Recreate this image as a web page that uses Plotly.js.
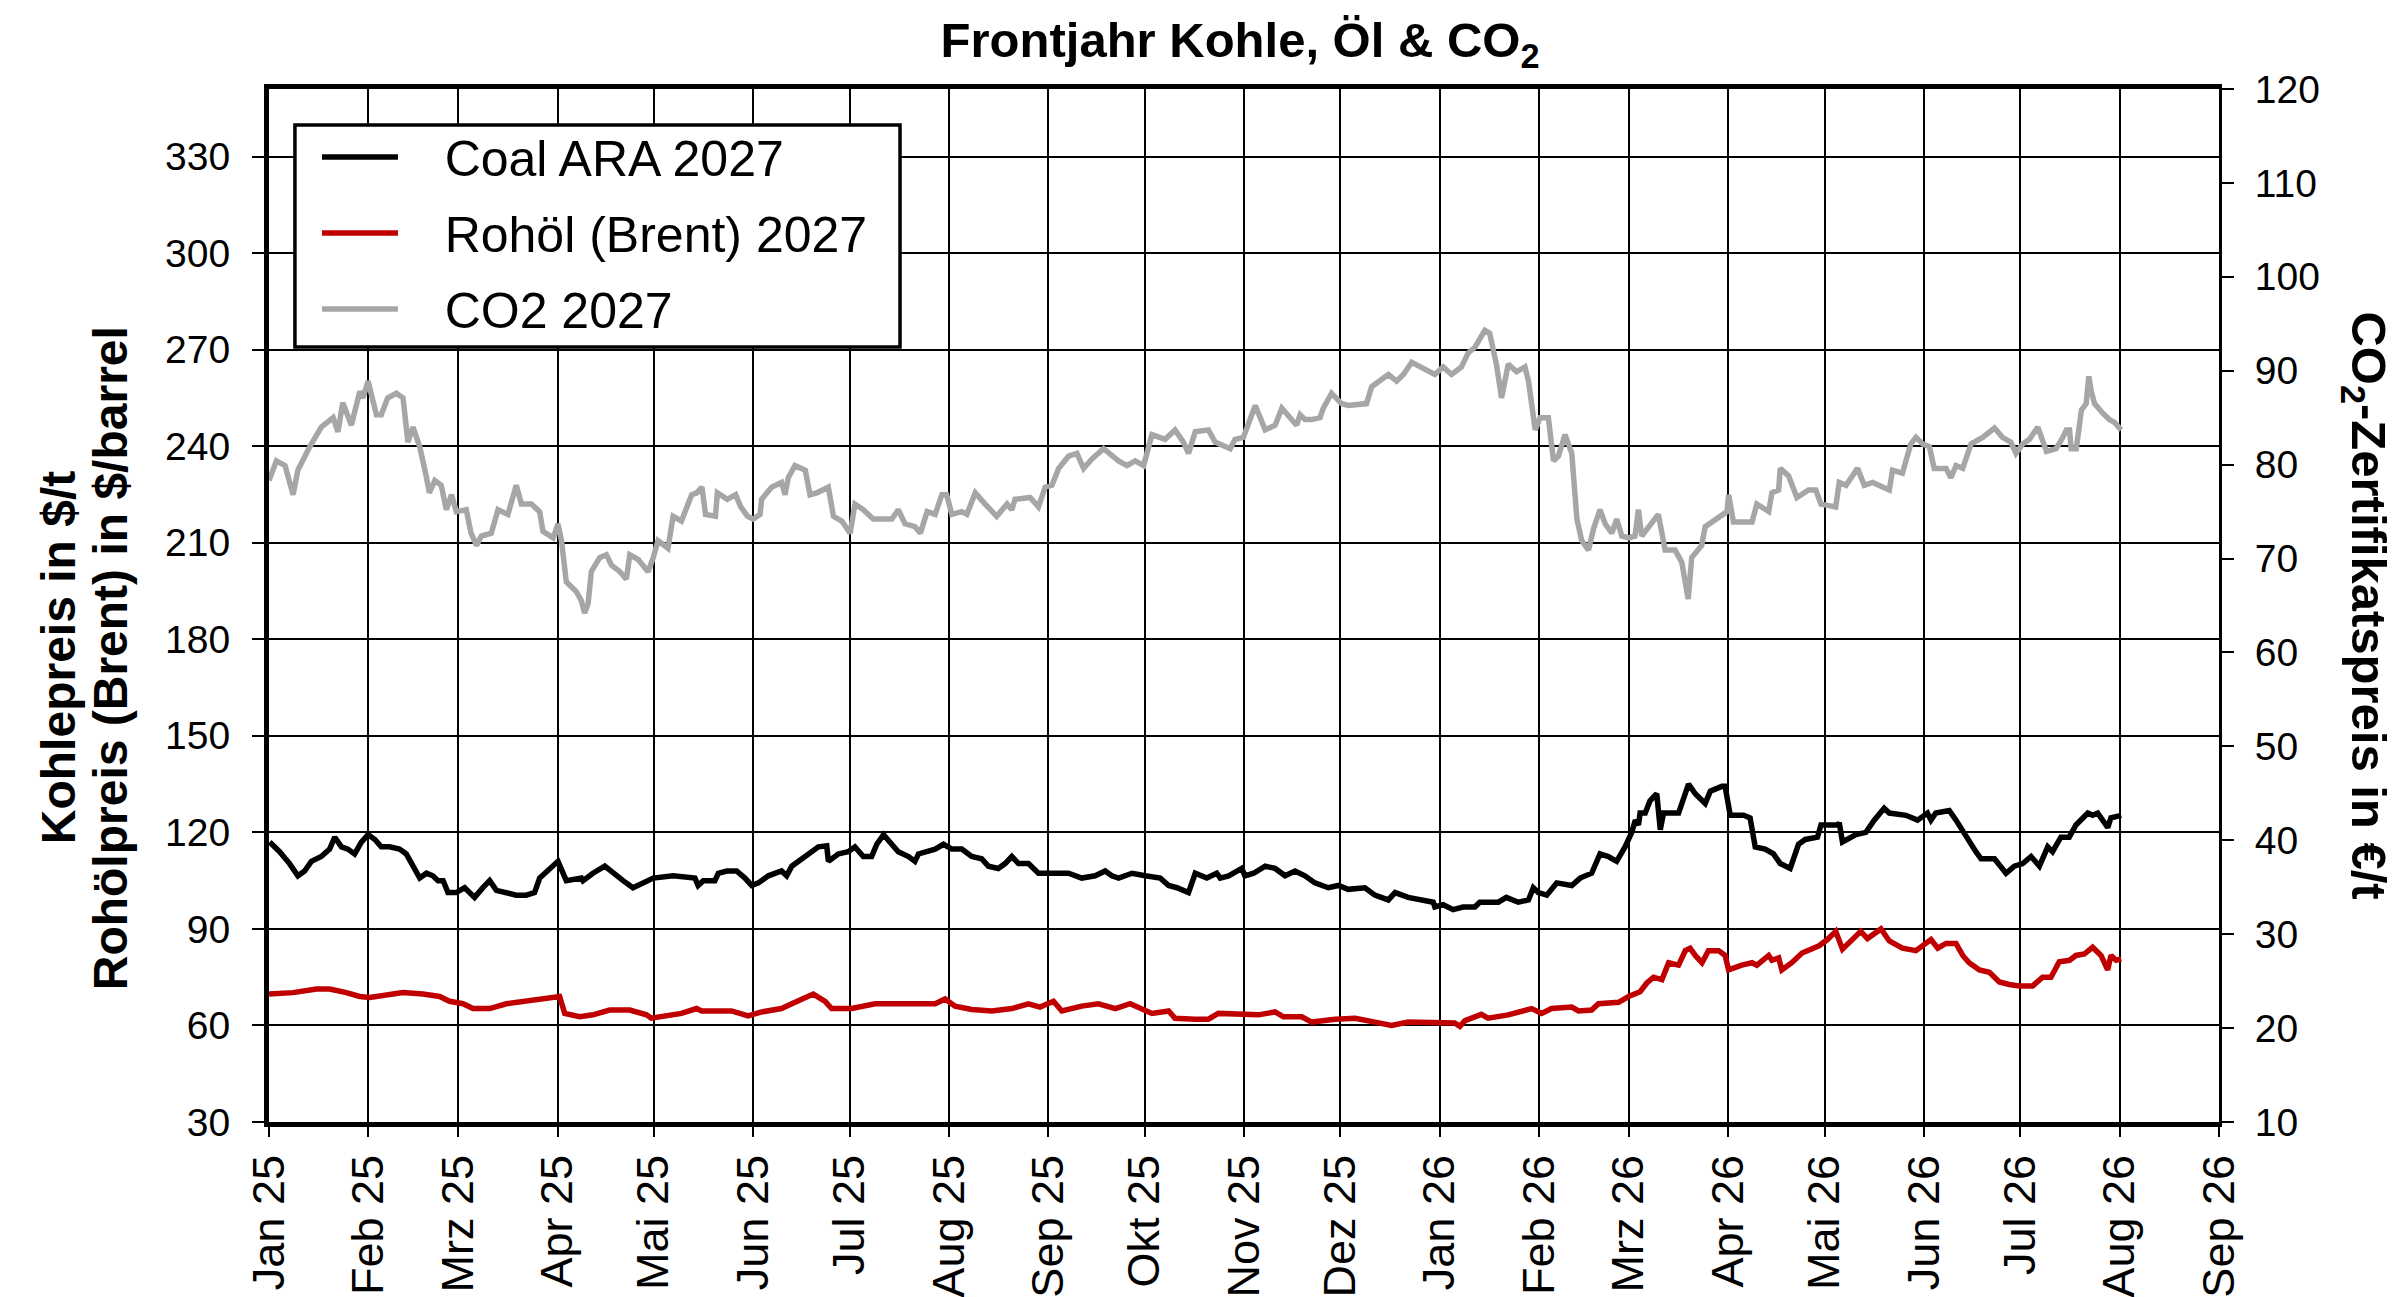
<!DOCTYPE html>
<html>
<head>
<meta charset="utf-8">
<script src="https://cdn.plot.ly/plotly-3.0.1.min.js"></script>
<style>
  html, body { margin: 0; padding: 0; background: #fff; }
  #chart { width: 2400px; height: 1297px; }
</style>
</head>
<body>
<div id="chart"></div>
<script>
/* ── Data: day offsets from 1 Jan 2025 ── */
const coalDays = [0.2,3.3,6.4,9.0,11.1,13.2,16.3,18.9,20.5,22.6,24.6,26.7,28.8,30.9,33.0,35.0,37.6,40.7,42.8,44.9,47.0,49.1,51.1,52.7,54.3,55.8,58.4,61.0,62.6,64.1,66.7,68.8,70.9,74.0,77.1,80.2,82.8,84.4,87.5,90.1,92.7,97.4,97.9,101.0,104.7,107.3,110.4,113.5,116.6,119.8,126.0,
  132.8,133.8,135.4,139.0,140.1,142.7,145.8,148.4,150.5,152.6,155.7,159.8,161.4,163.0,166.1,168.7,171.3,173.9,174.4,177.5,180.6,182.7,185.3,187.9,189.5,191.6,193.6,196.2,199.4,201.4,202.5,205.6,207.7,210.3,212.9,216.0,219.1,222.2,224.3,227.4,229.5,231.6,233.7,236.8,239.9,243.0,246.2,249.3,253.4,257.6,260.7,
  262.8,264.9,269.1,273.2,277.9,280.5,283.1,286.7,288.8,292.4,295.5,296.6,299.2,303.3,304.3,307.0,310.6,313.7,316.8,319.9,323.0,326.1,330.3,333.4,336.5,341.7,344.8,349.0,351.1,355.2,359.4,363.0,363.5,366.1,369.2,372.3,376.0,377.5,380.1,383.3,385.8,389.5,
  392.7,394.2,395.8,398.4,401.5,406.2,408.8,412.4,415.0,417.6,420.2,422.8,424.9,426.0,427.0,427.5,429.1,430.6,432.7,433.8,434.8,439.5,442.6,444.7,447.8,449.4,453.0,454.0,455.6,459.8,461.8,463.4,466.5,469.1,471.2,474.3,476.9,479.0,
  482.8,483.9,489.1,489.6,490.6,494.8,497.9,500.5,503.6,505.2,510.4,514.0,517.1,518.2,519.7,523.9,526.0,529.1,532.2,533.8,538.0,541.6,544.2,546.8,549.4,552.0,554.6,556.1,558.7,561.3,563.4,567.1,568.6,570.2,573.3,574.3,577.5];
const coalVals = [117.0,114.0,110.3,106.5,108.0,111.0,112.5,114.8,118.5,115.5,114.8,113.3,117.0,119.3,117.8,115.5,115.5,114.8,113.3,109.5,105.8,107.3,106.5,105.0,105.0,101.3,101.3,102.8,101.3,99.8,102.8,105.0,102.0,101.3,100.5,100.5,101.3,105.8,108.8,111.0,105.0,105.8,105.0,107.3,109.5,107.3,105.0,102.8,104.3,105.8,106.5,
  105.8,103.5,105.0,105.0,107.3,108.0,108.0,105.8,103.5,104.3,106.5,108.0,106.5,109.5,111.8,114.0,115.5,115.8,111.0,113.3,114.0,115.5,112.5,112.5,116.3,119.3,117.0,114.0,112.5,111.0,113.3,114.0,114.8,116.3,114.8,114.8,112.5,111.8,109.5,108.8,110.3,112.5,110.3,110.3,107.3,107.3,107.3,107.3,105.8,106.5,108.0,
  106.5,105.8,107.3,106.5,105.8,103.5,102.8,101.3,107.3,105.8,107.3,105.8,106.5,108.8,106.5,107.3,109.5,108.8,106.5,108.0,106.5,104.3,102.8,103.5,102.3,102.8,100.5,99.0,101.3,99.8,99.0,98.3,96.8,97.5,96.0,96.8,96.8,98.3,98.3,98.3,99.8,98.3,
  99.0,102.8,101.3,100.5,104.3,103.5,105.8,107.3,113.3,112.5,111.0,115.5,120.0,123.8,122.3,126.0,126.0,129.8,132.0,120.8,126.0,126.0,135.0,132.0,129.0,132.8,134.3,134.3,125.3,125.3,124.5,115.5,114.8,113.3,110.3,108.8,116.3,117.8,
  118.5,122.3,122.3,123.0,117.0,119.3,120.0,123.8,127.5,126.0,125.3,123.8,126.0,123.8,126.0,126.8,123.8,118.5,114.0,111.8,111.8,107.3,109.5,110.3,112.5,109.5,115.5,114.0,118.5,118.5,122.3,126.0,125.3,126.0,121.5,124.5,125.3];

const oilDays = [0,7.5,14.8,18.9,24.1,28.3,31.4,36.6,41.8,48.0,53.2,56.3,60.5,63.6,68.8,74.0,80.2,85.4,90.6,92.2,96.9,101.0,106.2,112.5,117.7,119.2,124.9,
  128.6,133.3,134.9,144.2,149.4,153.6,159.8,163.0,166.1,169.7,173.4,175.4,181.7,189.0,192.1,201.4,207.7,210.8,213.9,219.1,225.4,231.6,236.8,240.4,244.6,247.2,253.4,258.6,
  263.9,268.5,275.3,280.5,282.5,288.8,292.9,296.0,308.5,313.7,316.3,322.0,325.1,332.4,338.6,344.8,350.0,355.2,363.5,369.7,371.3,372.9,378.0,380.1,386.4,390.5,
  393.7,396.8,399.9,406.2,408.3,412.4,414.5,420.8,423.9,427.5,429.6,431.7,434.3,436.4,439.5,441.6,443.1,444.7,446.8,448.8,452.0,454.0,455.1,459.2,462.4,463.9,467.6,468.6,470.7,471.7,474.8,478.0,
  483.3,485.9,488.5,490.6,493.7,496.3,498.4,502.6,505.2,509.3,513.5,518.2,520.3,522.9,526.0,528.1,530.1,533.3,536.4,539.5,542.6,545.7,549.9,553.0,555.6,558.2,561.4,563.4,566.0,568.6,571.2,573.3,574.3,575.9,577.5];
const oilVals = [69.75,70.2,71.3,71.3,70.2,69.0,68.7,69.3,70.2,69.75,69.0,67.5,66.75,65.25,65.25,66.75,67.5,68.25,69.0,63.75,62.7,63.3,64.8,64.8,63.3,62.25,63.0,
  63.75,65.25,64.5,64.5,63.0,64.2,65.25,66.75,68.25,69.75,67.5,65.25,65.25,66.75,66.75,66.75,66.75,68.25,66.0,64.95,64.5,65.25,66.75,65.7,67.5,64.5,66.0,66.75,
  65.25,66.75,63.75,64.5,62.25,61.95,61.95,63.75,63.3,64.2,62.7,62.7,61.05,61.95,62.25,61.05,60.0,61.05,61.05,60.75,59.7,61.5,63.45,62.25,63.3,64.5,
  65.25,63.75,65.25,65.7,64.5,64.8,66.75,67.2,69.0,70.5,73.2,75.0,74.25,79.5,78.75,83.25,84.0,81.75,79.5,83.25,83.25,81.75,77.25,78.75,79.5,78.75,81.75,80.25,81.0,77.25,79.5,82.5,
  84.75,86.7,89.25,83.7,86.7,89.25,87.0,90.0,86.25,84.0,83.25,86.7,84.0,85.5,85.5,81.75,79.5,77.25,76.5,73.5,72.75,72.3,72.3,75.0,75.0,79.8,80.25,81.75,82.2,84.3,81.75,77.25,81.75,80.25,80.7];

const co2Days = [0,2.3,5,7.5,9,12.7,16.3,20,21.5,23,25.7,28.3,29.3,30.9,33.5,35,37,39.7,41.8,43.3,44.9,47,49,50,51.7,53.7,55.3,56.9,58.4,61.5,63,64.7,66.2,69.3,71.4,74.5,77.1,78.7,81.8,84.4,85.4,88.6,90.1,91.2,92.7,95.8,97.4,98.4,99.5,100.5,103.1,105.2,106.8,109.4,111.4,112.5,115.1,118.2,119.8,121.3,124.4,126.0,
  128.6,131.8,133.4,135.0,136.1,139.2,139.8,142.9,145.5,147.1,149.2,151,153.1,153.6,156.7,159.8,160.9,161.9,164.0,167.2,168.7,170.8,174.4,176.0,178.6,181.2,182.7,185.3,188.4,192.1,194.2,196.2,198.3,201.4,203.1,205.2,207.7,209.8,211.3,212.9,216.0,217.6,220.2,223.3,226.9,230.1,231.6,232.6,237.3,239.9,242.0,244.1,246.2,249.3,251.9,254.0,256.6,260.2,
  261.8,264.9,267.5,270.1,272.7,275.3,279.4,282.5,285.1,286.7,288.8,292.9,295.0,299.7,301.2,303.8,307.5,310.6,313.7,315.8,320.4,321.5,323.0,325.1,327.7,328.7,331.3,334.4,336.5,340.2,342.2,343.8,346.4,349.0,351.6,353.7,356.3,359.4,363.5,366.1,368.7,371.8,373.9,376.0,379.1,380.6,382.7,384.3,386.4,389.0,391.6,
  392.7,394.8,396.3,398.9,400.5,402.0,404.1,406.2,407.8,409.3,411.4,413.0,415.0,416.6,418.7,420.2,421.8,423.9,425.9,427.0,428.0,433.2,435.3,438.4,440.5,442.5,443.6,446.7,447.8,449.9,454.6,455.1,456.6,462.4,463.9,467.6,468.6,470.7,471.2,473.8,476.4,480.0,
  482.3,483.9,488.5,489.6,491.7,495.3,497.4,500.0,505.2,506.2,509.3,511.9,513.5,515.6,517.7,519.2,522.9,524.4,526.0,528.1,530.7,534.3,538.0,540.5,543.1,544.7,546.8,548.9,551.5,554.2,557.2,559.3,560.4,561.4,561.9,563.5,565.1,566.6,567.4,568.2,569.2,571.7,573.8,575.4,577.5];
const co2Vals = [78.3,80.4,79.9,76.8,79.4,81.9,84.0,85.0,83.5,86.6,84.2,87.8,87.1,88.9,85.3,85.3,87.1,87.6,87.1,82.4,84.0,81.9,78.8,77.0,78.3,77.8,75.2,76.8,75.0,75.2,72.7,71.4,72.4,72.7,75.2,74.7,77.8,75.8,75.8,75.0,72.9,72.2,73.7,71.9,67.5,66.5,65.5,64.2,65.2,68.6,70.1,70.4,69.3,68.6,67.8,70.4,69.9,68.6,70.1,71.9,71.1,74.5,
  74.0,76.8,77.0,77.6,74.7,74.5,77.0,76.3,76.8,75.5,74.5,74.2,74.7,76.3,77.6,78.1,76.8,78.6,79.9,79.4,76.8,77.0,77.6,74.5,74.0,72.7,75.8,75.2,74.2,74.2,74.2,75.2,73.7,73.4,72.7,75.0,74.7,76.8,76.8,74.7,75.0,74.7,77.0,75.8,74.5,75.8,75.2,76.3,76.5,75.5,77.6,77.8,79.6,80.9,81.2,79.6,80.6,81.7,
  81.2,80.4,79.9,80.4,79.9,83.2,82.7,83.7,82.4,81.2,83.5,83.7,82.4,81.7,82.7,82.9,86.3,83.7,84.2,86.0,84.2,85.3,84.8,84.8,85.0,86.0,87.6,86.5,86.3,86.5,86.5,88.3,88.9,89.6,88.9,89.6,90.9,90.4,89.6,90.4,89.6,90.4,91.9,92.5,94.3,94.0,90.7,87.1,90.7,89.9,90.4,
  88.9,83.7,85.0,85.0,80.4,80.9,83.2,81.2,74.2,71.9,70.9,73.2,75.2,73.7,72.7,74.2,72.4,72.2,72.4,75.2,72.4,74.7,70.9,70.9,69.6,65.7,70.1,71.4,73.4,73.9,75.0,76.8,73.9,73.9,75.8,75.0,77.0,77.3,79.6,78.8,76.5,77.3,
  77.3,75.8,75.5,78.1,77.8,79.6,77.8,78.1,77.3,79.4,79.1,82.2,82.9,82.2,81.9,79.6,79.6,78.6,79.9,79.6,82.2,82.9,83.9,82.9,82.4,81.2,82.2,82.7,84.0,81.4,81.7,82.9,83.7,83.7,81.7,81.7,85.8,86.5,89.4,87.8,86.5,85.5,84.8,84.5,83.7];

const monthTicks = ['2025-01-01','2025-02-01','2025-03-01','2025-04-01','2025-05-01','2025-06-01','2025-07-01',
  '2025-08-01','2025-09-01','2025-10-01','2025-11-01','2025-12-01','2026-01-01','2026-02-01','2026-03-01',
  '2026-04-01','2026-05-01','2026-06-01','2026-07-01','2026-08-01','2026-09-01'];
const monthLabels = ['Jan 25','Feb 25','Mrz 25','Apr 25','Mai 25','Jun 25','Jul 25','Aug 25','Sep 25','Okt 25',
  'Nov 25','Dez 25','Jan 26','Feb 26','Mrz 26','Apr 26','Mai 26','Jun 26','Jul 26','Aug 26','Sep 26'];
const leftTicks = [30, 60, 90, 120, 150, 180, 210, 240, 270, 300, 330];
const rightTicks = [10, 20, 30, 40, 50, 60, 70, 80, 90, 100, 110, 120];

/* ── Helpers ─────────────────────────────────────────────── */
const BASE_MS = Date.UTC(2025, 0, 1);
function toDate(d) {
  return new Date(BASE_MS + d * 86400000).toISOString().slice(0, 19).replace('T', ' ');
}

const FONT = '"Liberation Sans", Arial, Helvetica, sans-serif';
const PAD = '\u00a0\u00a0\u00a0';   // gap between legend sample and label

const traces = [
  {
    x: coalDays.map(toDate), y: coalVals, name: PAD + 'Coal ARA 2027',
    type: 'scatter', mode: 'lines', legendgroup: 'a',
    line: { color: '#000000', width: 5.5 }
  },
  {
    x: oilDays.map(toDate), y: oilVals, name: PAD + 'Rohöl (Brent) 2027',
    type: 'scatter', mode: 'lines', legendgroup: 'b',
    line: { color: '#C00000', width: 5.5 }
  },
  {
    x: co2Days.map(toDate), y: co2Vals, name: PAD + 'CO2 2027', yaxis: 'y2',
    type: 'scatter', mode: 'lines', legendgroup: 'c',
    line: { color: '#A6A6A6', width: 5.5 }
  }
];

const layout = {
  width: 2400, height: 1297,
  font: { family: FONT, color: '#000', size: 36 },
  paper_bgcolor: '#fff', plot_bgcolor: '#fff',
  margin: { l: 269, r: 181, t: 89, b: 175 },
  showlegend: true,
  title: {
    text: '<b>Frontjahr Kohle, Öl &amp; CO<sub>2</sub></b>',
    font: { size: 49, family: FONT },
    xref: 'container', x: 0.5167, xanchor: 'center',
    yref: 'container', y: 0.969, yanchor: 'middle'
  },
  legend: {
    x: 0.0246, xanchor: 'left', y: 0.972, yanchor: 'top',
    bgcolor: 'rgba(0,0,0,0)', borderwidth: 0,
    font: { size: 50, family: FONT },
    tracegroupgap: 8, itemwidth: 76
  },
  shapes: [
    { // legend frame
      type: 'rect', xref: 'paper', yref: 'paper', layer: 'above',
      x0: 0.0133, x1: 0.3236, y0: 0.7502, y1: 0.9652,
      fillcolor: '#fff', line: { color: '#000', width: 3.5 }
    }
  ],
  xaxis: {
    type: 'date', range: ['2025-01-01', '2026-09-01'],
    tickvals: monthTicks, ticktext: monthLabels, tickangle: -90,
    tickfont: { size: 45 },
    showgrid: true, gridcolor: '#000', gridwidth: 2,
    showline: true, linecolor: '#000', linewidth: 5, mirror: true,
    ticks: 'outside', ticklen: 10, tickwidth: 2, tickcolor: '#000',
    zeroline: false
  },
  yaxis: {
    range: [30, 351], tickvals: leftTicks,
    tickfont: { size: 39 },
    showgrid: true, gridcolor: '#000', gridwidth: 2,
    showline: true, linecolor: '#000', linewidth: 5,
    ticks: 'outside', ticklen: 12, tickwidth: 2, tickcolor: '#000',
    ticklabelstandoff: 14, zeroline: false
  },
  yaxis2: {
    range: [10, 120], tickvals: rightTicks, overlaying: 'y', side: 'right',
    tickfont: { size: 39 },
    showgrid: false,
    showline: true, linecolor: '#000', linewidth: 3,
    ticks: 'outside', ticklen: 12, tickwidth: 2, tickcolor: '#000',
    ticklabelstandoff: 13, zeroline: false
  },
  annotations: [
    {
      text: '<b>Kohlepreis in $/t</b>', textangle: -90, showarrow: false,
      xref: 'paper', yref: 'paper', x: -0.1082, y: 0.449,
      xanchor: 'center', yanchor: 'middle', font: { size: 48, family: FONT }
    },
    {
      text: '<b>Rohölpreis (Brent) in $/barrel</b>', textangle: -90, showarrow: false,
      xref: 'paper', yref: 'paper', x: -0.0815, y: 0.449,
      xanchor: 'center', yanchor: 'middle', font: { size: 48, family: FONT }
    },
    {
      text: '<b>CO<sub>2</sub>-Zertifikatspreis in €/t</b>', textangle: 90, showarrow: false,
      xref: 'paper', yref: 'paper', x: 1.0749, y: 0.5,
      xanchor: 'center', yanchor: 'middle', font: { size: 49, family: FONT }
    }
  ]
};

Plotly.newPlot('chart', traces, layout, { displayModeBar: false, staticPlot: true });
</script>
</body>
</html>
